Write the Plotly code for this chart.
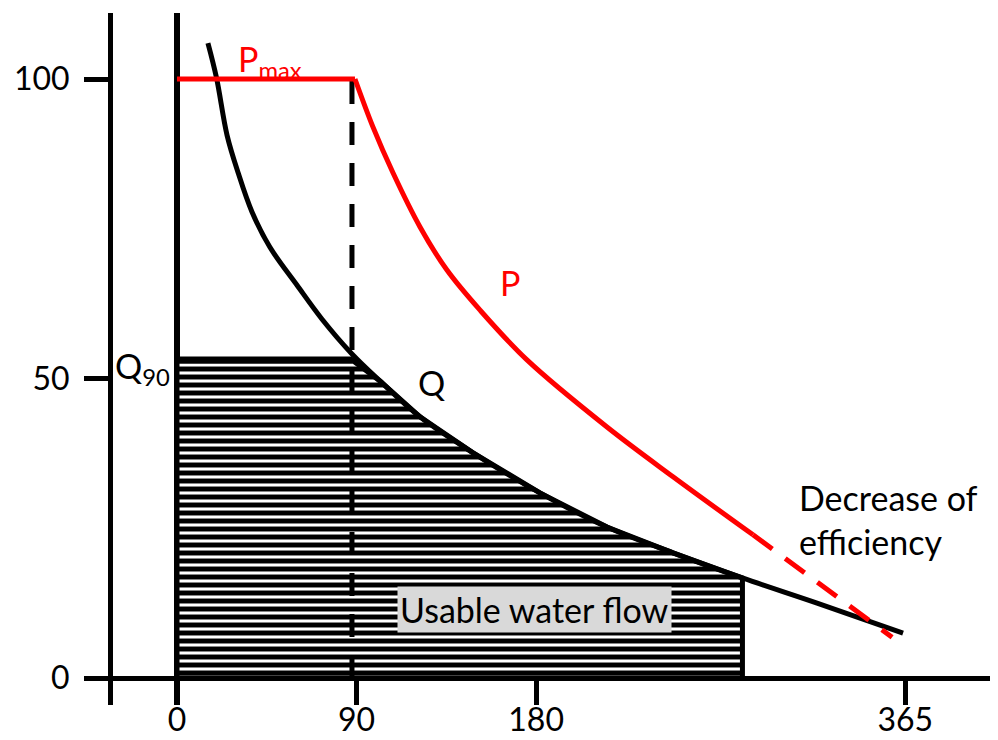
import plotly.graph_objects as go

# flow duration curve Q (days exceeded vs discharge, % scale)
Q_DAYS = [15.5, 19.8, 25.1, 30.6, 37.6, 46.6, 60.1, 72.7, 87.7, 101.7, 121.8,
          148.4, 181.9, 215.5, 248.6, 283.4, 320.8, 363.9]
Q_FLOW = [106.0, 100.2, 90.6, 84.4, 77.8, 71.9, 65.6, 59.9, 54.1, 49.6, 43.6,
          37.6, 30.9, 25.2, 20.9, 16.7, 12.5, 7.5]

# power curve P
P_DAYS = [89.2, 98.2, 108.3, 121.8, 135.3, 151.9, 175.4, 215.5, 248.6, 288.7]
P_POWER = [100, 92.0, 84.3, 75.3, 68.1, 61.4, 53.1, 41.9, 33.6, 23.9]
P_LOW_DAYS = [288.7, 358.4]
P_LOW_POWER = [23.9, 6.8]

P_MAX = 100
Q90 = 53.1
Q90_DAY = 87.7
USABLE_END_IDX = 15  # index in Q_DAYS where usable flow stops

X_TICKS = [0, 90, 180, 365]
Y_TICKS = [0, 50, 100]

FONT = "Lato"
RED = "#ff0000"

# usable water flow polygon (hatched)
hatch_x = [0, 0, Q90_DAY] + Q_DAYS[9:USABLE_END_IDX + 1] + [Q_DAYS[USABLE_END_IDX], 0]
hatch_y = [0, Q90, Q90] + Q_FLOW[9:USABLE_END_IDX + 1] + [0, 0]

fig = go.Figure()

fig.add_trace(go.Scatter(
    x=hatch_x, y=hatch_y, mode="lines", fill="toself",
    fillcolor="white",
    fillpattern=dict(shape="-", size=8, solidity=0.62,
                     fgcolor="#000000", bgcolor="white", fgopacity=1),
    line=dict(color="black", width=5),
    hoverinfo="skip",
))
fig.add_trace(go.Scatter(
    x=[0, Q90_DAY], y=[Q90, Q90], mode="lines",
    line=dict(color="black", width=7),
))

fig.add_trace(go.Scatter(
    x=Q_DAYS, y=Q_FLOW, mode="lines",
    line=dict(color="black", width=5, shape="spline", smoothing=1.0),
))

fig.add_trace(go.Scatter(
    x=[Q90_DAY, Q90_DAY], y=[0, P_MAX], mode="lines",
    line=dict(color="black", width=5, dash="23px,18px"),
))

fig.add_trace(go.Scatter(
    x=[0, P_DAYS[0]], y=[P_MAX, P_MAX], mode="lines",
    line=dict(color=RED, width=5),
))

fig.add_trace(go.Scatter(
    x=P_DAYS, y=P_POWER, mode="lines",
    line=dict(color=RED, width=5, shape="spline", smoothing=1.0),
))

fig.add_trace(go.Scatter(
    x=P_LOW_DAYS, y=P_LOW_POWER, mode="lines",
    line=dict(color=RED, width=5, dash="24px,16px"),
))

# geometry of the drawing (pixels -> axis ranges); the page body adds 8px
OFF = 8
W, H = 998 - OFF, 740 - OFF
px_per_day = 1.9952
x0_px = 177 - OFF
px_per_unit = 5.99
y0_px = 678 - OFF

x_dom = [(95 - OFF) / W, 1]
x_rng = [(95 - OFF - x0_px) / px_per_day, (W - x0_px) / px_per_day]
y_dom = [1 - (705 - OFF) / H, 1 - (13 - OFF) / H]
y_rng = [(y0_px - (705 - OFF)) / px_per_unit, (y0_px - (13 - OFF)) / px_per_unit]
x_axis_pos = y_dom[0] + (0 - y_rng[0]) / (y_rng[1] - y_rng[0]) * (y_dom[1] - y_dom[0])

tick_font = dict(family=FONT, size=32, color="black")

fig.update_xaxes(
    domain=x_dom, range=x_rng, anchor="free", position=x_axis_pos,
    tickvals=X_TICKS, ticks="outside", ticklen=26, tickwidth=5,
    tickcolor="black", tickfont=tick_font, ticklabelstandoff=-12,
    showgrid=False,
    zeroline=True, zerolinewidth=6, zerolinecolor="black",
    showline=False, automargin=False,
)
fig.update_yaxes(
    domain=y_dom, range=y_rng, anchor="free", position=(110 - OFF) / W,
    tickvals=Y_TICKS, ticks="outside", ticklen=24, tickwidth=5,
    tickcolor="black", tickfont=tick_font, ticklabelstandoff=8,
    showgrid=False,
    zeroline=True, zerolinewidth=5, zerolinecolor="black",
    showline=True, linewidth=5, linecolor="black", automargin=False,
)

big = dict(family=FONT, size=34, color="black")
fig.add_annotation(x=46.6, y=103.0, text="P<sub>max</sub>", showarrow=False,
                   font=dict(family=FONT, size=34, color=RED))
fig.add_annotation(x=166.9, y=66.0, text="P", showarrow=False,
                   font=dict(family=FONT, size=34, color=RED))
fig.add_annotation(x=127.8, y=49.4, text="Q", showarrow=False, font=big)
fig.add_annotation(x=-2.5, y=51.8, text="Q<sub>90</sub>", showarrow=False,
                   xanchor="right", font=big)
fig.add_annotation(x=310.7, y=26.5, text="Decrease of<br>efficiency",
                   showarrow=False, xanchor="left", align="left", font=big)
fig.add_annotation(x=179.4, y=11.4, text="Usable water flow", showarrow=False,
                   bgcolor="#d9d9d9", borderpad=2, font=big)

fig.update_layout(
    width=W, height=H, margin=dict(l=0, r=0, t=0, b=0),
    plot_bgcolor="white", paper_bgcolor="white", showlegend=False,
    font=dict(family=FONT),
)

fig.write_html("out.html")
